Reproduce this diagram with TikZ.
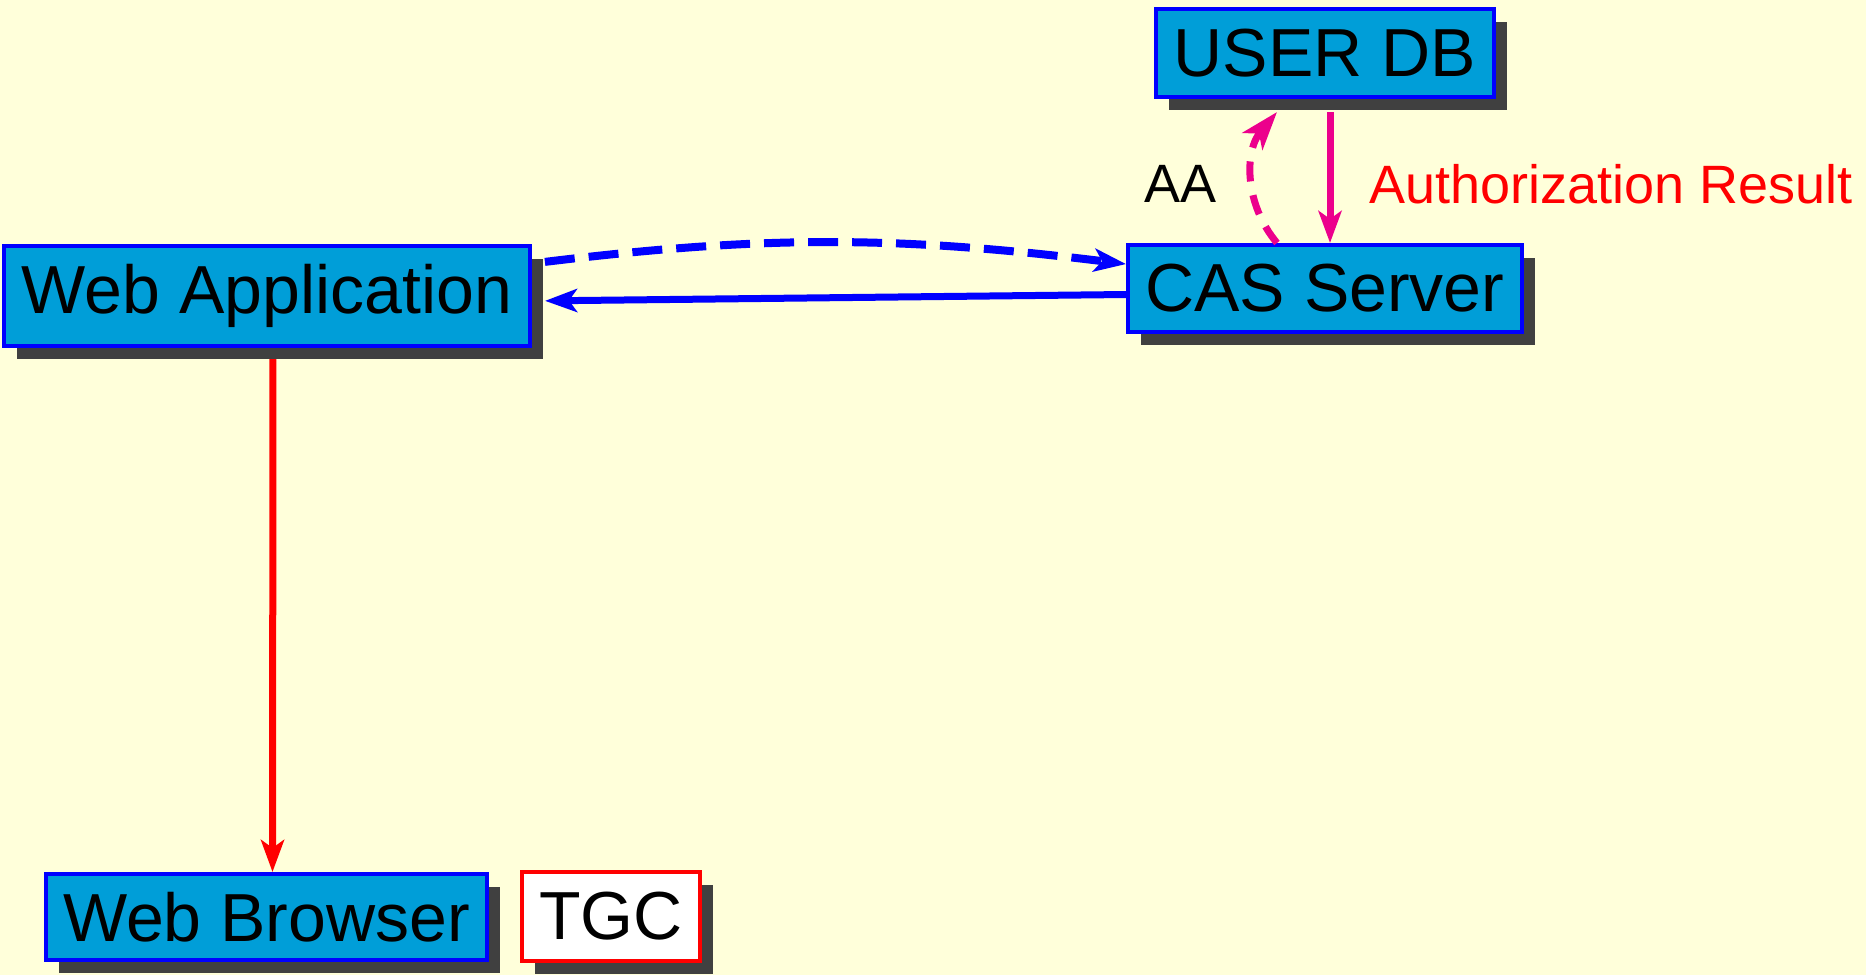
\documentclass[tikz,border=0pt]{standalone}
\usepackage{fontspec}
\setmainfont{Liberation Sans}
\usetikzlibrary{arrows.meta}
\usetikzlibrary{shadows}
\definecolor{paper}{RGB}{255,255,218}
\definecolor{boxblue}{RGB}{0,158,216}
\definecolor{shadowgrey}{RGB}{64,64,64}
\definecolor{linkpink}{RGB}{236,0,140}
\tikzset{
    % Long thin arrow heads, as on the links
    >={Stealth[length=16pt, width=11.5pt, inset=4pt]},
%
    % A part of the system: blue box with a hard shadow
    part box/.style={
        draw=blue, line width=2pt, fill=boxblue, inner sep=0pt,
        font=\fontsize{34}{40}\selectfont,
        drop shadow={shadow xshift=6.5pt, shadow yshift=-6.5pt,
            fill=shadowgrey, opacity=1}},
%
    % A ticket box, white with a red edge
    ticket box/.style={part box, draw=red, fill=white},
%
    % Text set beside the links
    link label/.style={inner sep=0pt, font=\fontsize{27}{32}\selectfont},
%
    % The links themselves
    red link/.style={draw=red, line width=3.5pt},
    blue link/.style={draw=blue, line width=3.5pt},
    pink link/.style={draw=linkpink, line width=3.5pt},
    blue dashes/.style={line width=4pt, dash pattern=on 15pt off 7pt},
    pink dashes/.style={line width=3.5pt, dash pattern=on 10pt off 7pt}}

\begin{document}
\begin{tikzpicture}[x=0.5pt, y=0.5pt]

\useasboundingbox [fill=paper] (0,0) rectangle (1866,-975);

\node (userdb) [part box, minimum width=169pt, minimum height=44pt]
    at (1325,-53) {USER DB};
\node (cas) [part box, minimum width=197pt, minimum height=43.5pt]
    at (1325,-288.5) {CAS Server};
\node (webapp) [part box, minimum width=263pt, minimum height=50pt]
    at (267,-296) {Web Application};
\node (browser) [part box, minimum width=220.5pt, minimum height=43pt]
    at (266.5,-917) {Web Browser};
\node (tgc) [ticket box, minimum width=89pt, minimum height=44.5pt]
    at (611,-916.5) {TGC};

\draw [red link, ->, shorten <=5.5pt]
    ([xshift=3pt]webapp.south) -- ([xshift=3pt]browser.north);

\draw [blue link, blue dashes, ->, shorten <=6.5pt]
    (webapp.7) to [bend left=7] (cas.173);
\draw [blue link, ->, shorten >=6.5pt]
    ([yshift=-3pt]cas.west) -- ([yshift=-2.5pt]webapp.east);

\draw [pink link, ->, shorten <=6.5pt]
    ([xshift=2.5pt]userdb.south) -- ([xshift=2.5pt]cas.north)
    node [midway, right, link label, red, xshift=18pt, yshift=-6.5pt]
        {Authorization Result};
\draw [pink link, pink dashes, -{Stealth[length=19pt, width=13pt, inset=5pt]}]
    ([xshift=-24pt]cas.north) to [bend left=40]
    node [midway, left, link label, black, xshift=-16pt, yshift=-3pt] {AA}
    ([xshift=-24pt, yshift=-6.5pt]userdb.south);

\end{tikzpicture}
\end{document}
